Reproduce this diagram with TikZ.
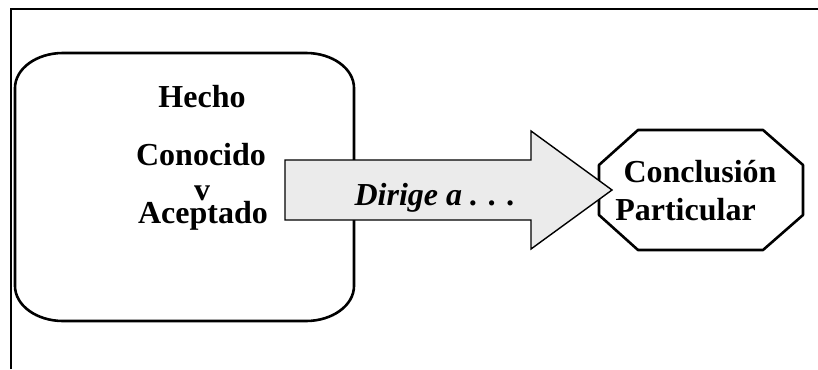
\documentclass[tikz,border=0pt]{standalone}
\usepackage{fontspec}
\setmainfont{Liberation Serif}
\begin{document}
\begin{tikzpicture}[x=1pt,y=-1pt,
  lbl/.style={font=\fontsize{32}{36}\selectfont\bfseries, anchor=base, inner sep=0pt},
  shapeline/.style={draw=black, line width=2.6pt, line join=round},
  arrowshape/.style={draw=black, line width=1.4pt, fill=black!8, line join=miter}]
\useasboundingbox (0,0) rectangle (818,369);
% frame
\draw[line width=2pt] (11,369) -- (11,9) -- (818,9);
% rounded box
\def\rx{48}\def\ry{35}
\draw[shapeline] (15,53+\ry) arc[start angle=180,end angle=270,x radius=\rx,y radius=\ry]
  -- (354-\rx,53) arc[start angle=270,end angle=360,x radius=\rx,y radius=\ry]
  -- (354,321-\ry) arc[start angle=0,end angle=90,x radius=\rx,y radius=\ry]
  -- (15+\rx,321) arc[start angle=90,end angle=180,x radius=\rx,y radius=\ry] -- cycle;
% octagon
\draw[shapeline] (638,130) -- (763,130) -- (803,165) -- (803,215) -- (763,250)
  -- (638,250) -- (599,215) -- (599,165) -- cycle;
% arrow
\draw[arrowshape] (285,160) -- (531,160) -- (531,131) -- (612,190) -- (531,249)
  -- (531,220) -- (285,220) -- cycle;
% texts
\node[lbl] (hecho) at (202,107) {Hecho};
\node[lbl] (conocido) at (201,165) {Conocido};
\node[lbl] (y) at (202,200) {v};
\node[lbl] (aceptado) at (203,223) {Aceptado};
\node[lbl, font=\fontsize{32}{36}\selectfont\bfseries\itshape] (dirige) at (435,205) {Dirige a . . .};
\node[lbl] (conclusion) at (700,182) {Conclusión};
\node[lbl] (particular) at (685.5,220) {Particular};
\end{tikzpicture}
\end{document}
